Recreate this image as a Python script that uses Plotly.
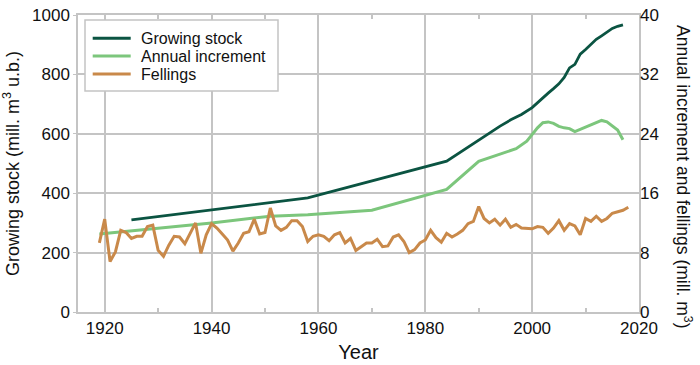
import plotly.graph_objects as go

# ---- data ----
stock_years = [1925, 1958, 1984, 1990, 1992, 1994, 1996, 1998, 2000, 2001, 2002, 2003,
               2004, 2005, 2006, 2007, 2008, 2009, 2010, 2011, 2012, 2013, 2014, 2015,
               2016, 2017]
stock_values = [310, 384, 508, 579, 603, 626, 647, 665, 688, 705, 720, 737,
                752, 768, 790, 822, 834, 868, 884, 902, 918, 930, 942, 955,
                962, 967]

incr_years = [1919, 1940, 1951, 1958, 1970, 1984, 1990, 1997, 1999, 2000, 2001, 2002,
              2003, 2004, 2005, 2006, 2007, 2008, 2009, 2010, 2011, 2012, 2013, 2014,
              2015, 2016, 2017]
incr_values = [10.5, 12.0, 12.9, 13.1, 13.7, 16.5, 20.3, 22.0, 23.0, 23.9, 24.8, 25.5,
               25.6, 25.4, 25.0, 24.8, 24.7, 24.3, 24.6, 24.9, 25.2, 25.5, 25.8, 25.6,
               25.0, 24.5, 23.2]

fell_years = list(range(1919, 2019))
fell_values = [
    9.3, 12.5, 6.8, 8.1, 11.0, 10.7, 9.9, 10.2, 10.2, 11.5,   # 1919-1928
    11.7, 8.3, 7.5, 9.0, 10.2, 10.1, 9.2, 10.6, 12.0, 7.9,    # 1929-1938
    10.4, 11.9, 11.3, 10.5, 9.7, 8.2, 9.3, 10.6, 10.8, 12.5,  # 1939-1948
    10.5, 10.7, 14.0, 11.6, 11.0, 11.4, 12.3, 12.3, 11.5, 9.5,# 1949-1958
    10.2, 10.4, 10.2, 9.6, 10.4, 10.7, 9.3, 9.9, 8.3, 8.8,    # 1959-1968
    9.3, 9.3, 9.8, 8.8, 8.9, 10.1, 10.4, 9.5, 8.0, 8.4,       # 1969-1978
    9.3, 9.7, 11.0, 10.0, 9.4, 10.6, 10.1, 10.5, 11.0, 11.9,  # 1979-1988
    12.2, 14.2, 12.6, 12.0, 12.5, 11.7, 12.5, 11.4, 11.8, 11.3,  # 1989-1998
    11.3, 11.2, 11.5, 11.4, 10.6, 11.3, 12.3, 11.0, 11.9, 11.6,  # 1999-2008
    10.4, 12.6, 12.2, 12.9, 12.2, 12.6, 13.3, 13.5, 13.7, 14.1,  # 2009-2018
]

series_names = ["Growing stock", "Annual increment", "Fellings"]
series_colors = ["#0b5442", "#7cc67c", "#c9894a"]

left_ticks = [0, 200, 400, 600, 800, 1000]
right_ticks = [0, 8, 16, 24, 32, 40]
x_ticks = [1920, 1940, 1960, 1980, 2000, 2020]

GRID = "#c4c4c4"
FONT = "Arial, Liberation Sans, sans-serif"

fig = go.Figure()
fig.add_trace(go.Scatter(x=stock_years, y=stock_values, mode="lines",
                         name=series_names[0], line=dict(color=series_colors[0], width=2.8),
                         yaxis="y"))
fig.add_trace(go.Scatter(x=incr_years, y=incr_values, mode="lines",
                         name=series_names[1], line=dict(color=series_colors[1], width=3),
                         yaxis="y2"))
fig.add_trace(go.Scatter(x=fell_years, y=fell_values, mode="lines",
                         name=series_names[2], line=dict(color=series_colors[2], width=3),
                         yaxis="y2"))

# plot-area geometry helpers (paper coords from pixel positions)
L, R, T, B = 78, 639, 15, 312
def px(x):
    return (x - L) / (R - L)
def py(y):
    return (B - y) / (B - T)

shapes = [dict(type="rect", xref="paper", yref="paper",
               x0=px(85), x1=px(278), y0=py(91), y1=py(20),
               line=dict(color=GRID, width=1.5), fillcolor="white", layer="above")]
annotations = []
rows = [38.3, 56, 74]
for name, color, ry in zip(series_names, series_colors, rows):
    shapes.append(dict(type="line", xref="paper", yref="paper",
                       x0=px(92.7), x1=px(130.7), y0=py(ry), y1=py(ry),
                       line=dict(color=color, width=3), layer="above"))
    annotations.append(dict(text=name, xref="paper", yref="paper", x=px(139),
                            y=py(ry), xanchor="left", yanchor="middle", showarrow=False,
                            font=dict(size=16, family=FONT, color="#111111")))

annotations.append(dict(text="Annual increment and fellings (mill. m<sup>3</sup>)",
                        xref="paper", yref="paper", x=px(684), y=py(176),
                        xanchor="center", yanchor="middle", textangle=90,
                        showarrow=False, font=dict(size=17.5, family=FONT, color="#111111")))

fig.update_layout(
    width=700, height=365,
    margin=dict(l=L, r=700 - R, t=T, b=365 - B),
    paper_bgcolor="white", plot_bgcolor="white",
    font=dict(family=FONT, size=17, color="#111111"),
    showlegend=False,
    shapes=shapes,
    annotations=annotations,
    xaxis=dict(range=[1915, 2020], tickvals=x_ticks, ticktext=[str(v) for v in x_ticks],
               showgrid=True, gridcolor=GRID, gridwidth=1.5,
               showline=True, linecolor=GRID, linewidth=1.5, mirror="ticks",
               ticks="inside", ticklen=4, tickcolor=GRID, tickwidth=1.5,
               minor=dict(dtick=10, tick0=1920, ticks="inside", ticklen=4,
                          tickcolor=GRID, tickwidth=1.5, showgrid=False),
               zeroline=False, automargin=False,
               title=dict(text="Year", standoff=8)),
    yaxis=dict(range=[0, 1000], tickvals=left_ticks, showgrid=True, gridcolor=GRID,
               gridwidth=1.5, showline=True, linecolor=GRID, linewidth=1.5, mirror=True,
               ticks="outside", ticklen=3, tickcolor=GRID, zeroline=False,
               automargin=False,
               title=dict(text="Growing stock (mill. m<sup>3</sup> u.b.)", standoff=8,
                          font=dict(size=18))),
    yaxis2=dict(range=[0, 40], tickvals=right_ticks, overlaying="y", side="right",
                showgrid=False, showline=False, zeroline=False, ticks="",
                automargin=False),
)

fig.write_html("out.html",
               config={"displayModeBar": False},
               post_script="document.body.style.margin='0';document.body.style.overflow='hidden';")
